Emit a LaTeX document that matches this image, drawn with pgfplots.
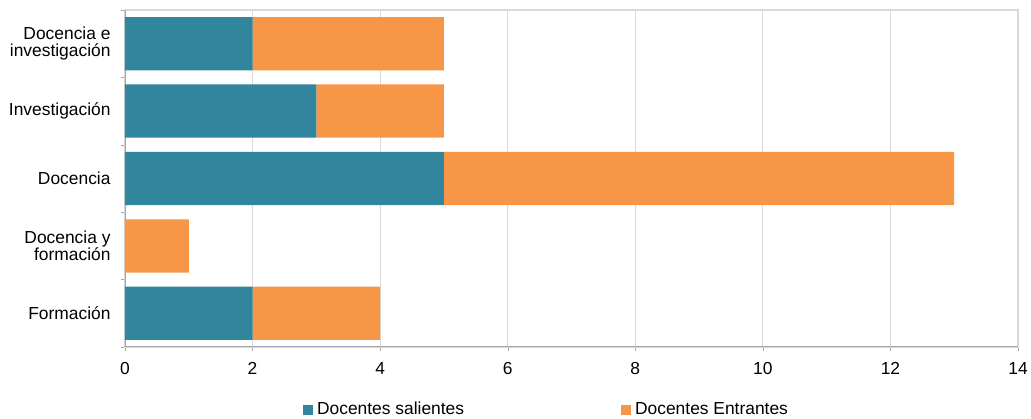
\documentclass[border=0pt]{standalone}
\usepackage{pgfplots}
\pgfplotsset{compat=1.18}
\usepackage{fontspec}
\setmainfont{Liberation Sans}
\definecolor{salientes}{HTML}{31859C}
\definecolor{entrantes}{HTML}{F79646}
\definecolor{gridc}{HTML}{D9D9D9}
\definecolor{axisc}{HTML}{A6A6A6}
\begin{document}
\begin{tikzpicture}
\begin{axis}[
  scale only axis,
  width=446.5pt, height=168.5pt,
  xbar stacked,
  bar width=0.79,
  xmin=0, xmax=14,
  ymin=-0.5, ymax=4.5,
  xtick={0,2,...,14},
  ytick={0,1,2,3,4},
  yticklabels={Formación,{Docencia y\\formación},Docencia,Investigación,{Docencia e\\investigación}},
  minor ytick={-0.5,0.5,1.5,2.5,3.5,4.5},
  tick pos=left,
  tick align=outside,
  major tick length=2.2pt,
  minor tick length=2.2pt,
  y tick style={draw=none},
  minor y tick style={draw=axisc},
  x tick style={draw=axisc},
  xmajorgrids,
  major x grid style={draw=gridc, line width=0.6pt},
  axis line style={draw=gridc, line width=0.6pt},
  font=\fontsize{8.7}{8.6}\selectfont,
  ticklabel style={font=\fontsize{8.7}{8.6}\selectfont, text=black},
  yticklabel style={align=right, xshift=-1.5pt},
  xticklabel style={yshift=-2pt},
  /pgf/number format/assume math mode=true,
  legend style={at={(0.199,-0.186)}, anchor=west, draw=none, fill=none, inner sep=0pt,
    legend columns=2, /tikz/every even column/.append style={column sep=76.5pt},
    font=\fontsize{8.7}{9.5}\selectfont},
  legend cell align=left,
  legend image code/.code={\fill[#1] (0pt,-2.5pt) rectangle (5pt,2.5pt);},
]
\addplot[fill=salientes, draw=none] coordinates {(2,0) (0,1) (5,2) (3,3) (2,4)};
\addlegendentry{Docentes salientes}
\addplot[fill=entrantes, draw=none] coordinates {(2,0) (1,1) (8,2) (2,3) (3,4)};
\addlegendentry{Docentes Entrantes}
\draw[axisc, line width=0.6pt] (rel axis cs:0,0) -- (rel axis cs:0,1);
\draw[axisc, line width=0.6pt] (rel axis cs:0,0) -- (rel axis cs:1,0);
\end{axis}
\pgfresetboundingbox
\path[use as bounding box] ([xshift=-62.5pt,yshift=-36pt]current axis.south west) rectangle ([xshift=6.5pt,yshift=5pt]current axis.north east);
\end{tikzpicture}
\end{document}
